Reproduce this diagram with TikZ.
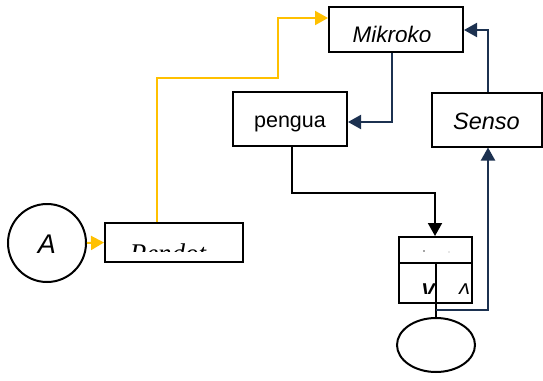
\documentclass[tikz,border=0pt]{standalone}
\usepackage{fontspec}
\setmainfont{Liberation Sans}
\newfontfamily\serifit{Liberation Serif}
\usetikzlibrary{arrows.meta,shapes.geometric}
\definecolor{gold}{HTML}{FFC000}
\definecolor{navy}{HTML}{1C3150}
\tikzset{
  boxshape/.style={draw=black, line width=2pt, fill=white},
  flow/.style={line width=2pt, -{Triangle[length=13pt,width=14pt]}},
  goldflow/.style={flow, draw=gold, color=gold},
  navyflow/.style={flow, draw=navy, color=navy},
  blackflow/.style={flow, draw=black},
  lbl/.style={inner sep=0pt, anchor=base},
}
\begin{document}
\begin{tikzpicture}[x=1pt, y=-1pt]
\useasboundingbox (0,0) rectangle (543,380);

% boxes
\node[boxshape, minimum width=134pt, minimum height=45pt, inner sep=0pt] (mik) at (396,29.5) {};
\node[boxshape, minimum width=114pt, minimum height=54pt, inner sep=0pt] (pen) at (290,119) {};
\node[boxshape, minimum width=110pt, minimum height=54pt, inner sep=0pt] (sen) at (486.5,119.5) {};
\node[boxshape, minimum width=138pt, minimum height=39pt, inner sep=0pt] (pdt) at (174,242.5) {};
\node[draw=black, line width=2pt, circle, minimum size=78pt, inner sep=0pt] (A) at (47,243) {};
\node[draw=black, line width=2pt, ellipse, minimum width=78pt, minimum height=54pt, inner sep=0pt] (ell) at (436,345) {};

% split box
\node[boxshape, minimum width=73pt, minimum height=66pt, inner sep=0pt] (split) at (435.5,270) {};
\coordinate (mid) at (436,263);
\draw[line width=2pt] (split.west |- mid) -- (split.east |- mid);
\draw[line width=2pt] (mid) -- (mid |- split.south);
\fill[black!70] (424,251) circle (0.9pt);
\fill[black!40] (449,252) circle (0.7pt);

% labels (cut off at the bottom of their frames)
\begin{scope}
  \clip (330,8) rectangle (462,41);
  \node[lbl, font=\itshape\fontsize{22.5}{22}\selectfont] (tmik) at (392,42) {Mikroko};
\end{scope}
\node[lbl, font=\fontsize{21.5}{22}\selectfont] (tpen) at (290,127) {pengua};
\node[lbl, font=\itshape\fontsize{23.5}{24}\selectfont] (tsen) at (486.5,129) {Senso};
\begin{scope}
  \clip (106,224) rectangle (242,251.5);
  \node[lbl, font=\serifit\itshape\fontsize{27}{27}\selectfont] (tpdt) at (168,262) {Pendot};
\end{scope}
\node[lbl, font=\itshape\fontsize{27}{27}\selectfont] (tA) at (47,253) {A};
\begin{scope}
  \clip (400,264) rectangle (472,293);
  \node[lbl, font=\bfseries\itshape\fontsize{20}{20}\selectfont] (tv) at (428,297.5) {V};
  \node[lbl, font=\itshape\fontsize{20}{20}\selectfont] (tl) at (464,297.5) {Λ};
\end{scope}

% connectors
\draw[goldflow] (A.east) -- (pdt.west);
\draw[goldflow] (pdt.north -| 157,0) |- (278,78) |- (mik.west |- 0,18);
\draw[navyflow] (mik.south -| 392,0) |- (pen.east |- 0,122);
\draw[navyflow] (sen.north -| 488,0) |- (mik.east |- 0,30);
\draw[blackflow] (pen.south -| 292,0) |- (435,193) -- (split.north -| 435,0);
\draw[line width=2pt] (mid |- split.south) -- (ell.north);
\draw[navyflow] (436,310) -| (sen.south -| 488,0);
\end{tikzpicture}
\end{document}
